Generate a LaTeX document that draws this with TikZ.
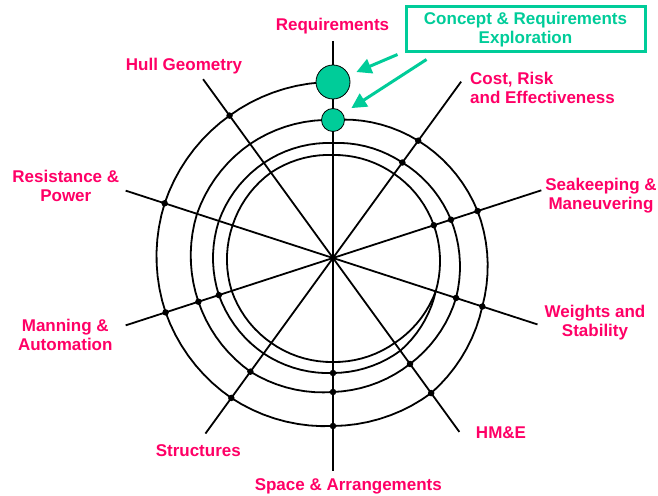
\documentclass[tikz,border=0pt]{standalone}
\usepackage{fontspec}
\setmainfont{Liberation Sans}
\usetikzlibrary{arrows.meta, positioning, calc}
\definecolor{spiralpink}{RGB}{255,0,102}
\definecolor{spiralgreen}{RGB}{0,204,153}

\begin{document}
\begin{tikzpicture}[x=1pt, y=1pt,
  spoke/.style={line width=1.8pt},
  ring/.style={line width=1.8pt, line cap=round},
  dot/.style={circle, fill=black, inner sep=0pt, minimum size=6.5pt},
  gate/.style={circle, draw=black, line width=0.8pt, fill=spiralgreen, inner sep=0pt},
  lbl/.style={text=spiralpink, font=\fontsize{17}{19}\selectfont\bfseries, align=center, inner sep=0pt},
  arr/.style={-{Triangle[length=15pt, width=15pt]}, line width=3pt, draw=spiralgreen}
]
\useasboundingbox (-333,-237) rectangle (325,258);
\coordinate (c) at (0,0);

% spokes
\foreach \name/\ang/\len in {req/90/217, hull/126/221, res/162/218, man/198/218, str/234/217,
                             spa/270/213, hme/306/215, wst/342/215, sea/18/219, crs/54/218}
  \coordinate (e-\name) at (\ang:\len);
\foreach \name in {hull, res, man, str, hme, wst, sea, crs}
  \draw[spoke] (c) -- (e-\name);
\draw[spoke] (e-req) -- (e-spa);

% the spiral, inward and counter-clockwise
\foreach \a/\ra/\rb [evaluate=\a as \b using \a+36] in {
    90/176/176, 126/176/177, 162/177/176, 198/176/173, 234/173/168,
    270/168/167, 306/167/157, 342/157/152, 378/152/145, 414/145/138,
    450/138/141, 486/141/143, 522/143/141.5, 558/141.5/140.5, 594/140.5/134,
    630/134/131, 666/131/129.4, 702/129.4/124, 738/124/118, 774/118/115,
    810/115/117.6, 846/117.6/120, 882/120/120, 918/120/118, 954/118/115,
    990/115/114.6, 1026/114.6/108, 1062/108/106, 1098/106/104, 1134/104/103,
    1170/103/105.6, 1206/105.6/105.6, 1242/105.6/106.5, 1278/106.5/105,
    1314/105/104, 1350/104/105, 1386/105/108}
  \draw[ring] plot[domain=\a:\b, samples=10, variable=\t] (\t:{\ra+(\rb-\ra)*(\t-\a)/36});

% design points
\foreach \ang/\rad [count=\i] in {126/176, 162/177, 198/176, 198/141.5, 198/120, 234/173, 234/140.5,
    270/168, 270/134, 270/115, 306/167, 306/131, 342/157, 342/129.4,
    18/152, 18/124, 18/106, 54/145, 54/118}
  \node[dot] (d\i) at (\ang:\rad) {};

\draw[line width=2.8pt] (90:193) -- (e-req);
\draw[line width=2.8pt] (d8) -- (e-spa);

\node[gate, minimum size=34pt] (bigc) at (90:176) {};
\node[gate, minimum size=23pt] (smallc) at (90:138) {};

% labels
\node[lbl] (lreq) at (-0.5,232) {Requirements};
\node[lbl] (lhull) at (-149,192) {Hull Geometry};
\node[lbl, anchor=west, align=left] (lcrs) at (137,170) {Cost, Risk\\and Effectiveness};
\node[lbl] (lsea) at (268,62) {Seakeeping \&\\Maneuvering};
\node[lbl] (lwst) at (262,-64.5) {Weights and\\Stability};
\node[lbl] (lhme) at (168,-175) {HM\&E};
\node[lbl] (lspa) at (15.3,-228) {Space \& Arrangements};
\node[lbl] (lstr) at (-134.7,-192.5) {Structures};
\node[lbl] (lman) at (-267.7,-76.5) {Manning \&\\Automation};
\node[lbl] (lres) at (-267.2,72.5) {Resistance \&\\Power};

\node[draw=spiralgreen, line width=3pt, text=spiralgreen, font=\fontsize{17}{19}\selectfont\bfseries,
      minimum width=239pt, minimum height=45pt, align=center, inner sep=0pt] (box) at (192.5,228.5)
      {Concept \& Requirements\\Exploration};
\coordinate (a1) at ($(box.south west)+(-7,-1)$);
\coordinate (a2) at ($(box.south west)+(22,-6)$);
\draw[arr, shorten >=8pt] (a1) -- (bigc);
\draw[arr, shorten >=10pt] (a2) -- (smallc);
\end{tikzpicture}
\end{document}
